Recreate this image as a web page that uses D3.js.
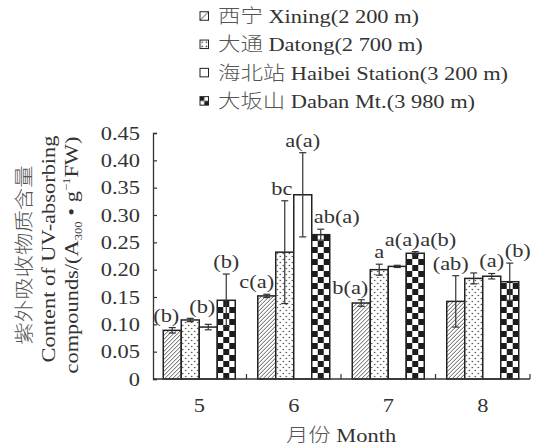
<!DOCTYPE html>
<html>
<head>
<meta charset="utf-8">
<script src="https://cdn.jsdelivr.net/npm/d3@7"></script>
<style>
  body { margin: 0; background: #fff; }
  svg { display: block; }
  text { font-family: "Liberation Serif", "Noto Sans CJK SC", serif; font-size: 19.5px; fill: #333; }
  .cjk { font-family: "Noto Sans CJK SC", sans-serif; font-weight: 300; fill: #555; }
</style>
</head>
<body>
<div id="chart"></div>
<script>
// data
const months = ["5", "6", "7", "8"];
const siteNames = ["西宁 Xining(2 200 m)", "大通 Datong(2 700 m)", "海北站 Haibei Station(3 200 m)", "大坂山 Daban Mt.(3 980 m)"];
const xining = [0.089, 0.152, 0.139, 0.142];
const xiningErr = [0.005, 0.003, 0.006, 0.047];
const datong = [0.108, 0.232, 0.200, 0.184];
const datongErr = [0.003, 0.094, 0.010, 0.010];
const haibei = [0.095, 0.337, 0.206, 0.188];
const haibeiErr = [0.005, 0.077, 0.002, 0.005];
const daban = [0.144, 0.264, 0.230, 0.178];
const dabanErr = [0.048, 0.010, 0.003, 0.034];
const xiningSig = ["(b)", "c(a)", "b(a)", "(ab)"];
const datongSig = ["", "bc", "a", ""];
const haibeiSig = ["(b)", "a(a)", "a(a)", "(a)"];
const dabanSig = ["(b)", "ab(a)", "a(b)", "(b)"];
const yTicks = [0, 0.05, 0.10, 0.15, 0.20, 0.25, 0.30, 0.35, 0.40, 0.45];

const SX = 1.15; // the original type is set wide
const CAP = 3.5;

const series = [
    { name: siteNames[0], values: xining, errs: xiningErr, sig: xiningSig, fill: "url(#hatch)", legendFill: "url(#hatchL)" },
    { name: siteNames[1], values: datong, errs: datongErr, sig: datongSig, fill: "url(#dots)", legendFill: "url(#dotsL)" },
    { name: siteNames[2], values: haibei, errs: haibeiErr, sig: haibeiSig, fill: "#fff", legendFill: "#fff" },
    { name: siteNames[3], values: daban, errs: dabanErr, sig: dabanSig, fill: "url(#check)", legendFill: "url(#checkL)" }
];

const svg = d3.select("#chart").append("svg")
    .attr("width", 540)
    .attr("height", 448);

const x = d3.scaleBand().domain(months).range([152, 530]).padding(0);
const xs = d3.scaleBand().domain(d3.range(series.length))
    .range([x.bandwidth() / 2 - 36, x.bandwidth() / 2 + 36]);
const y = d3.scaleLinear().domain([0, 0.45]).range([379, 133]);
const bw = xs.bandwidth();

// fill patterns
const defs = svg.append("defs");
function pattern(id, size, oy) {
    const p = defs.append("pattern").attr("id", id)
        .attr("patternUnits", "userSpaceOnUse")
        .attr("width", size).attr("height", size)
        .attr("y", oy || 0);
    p.append("rect").attr("width", size).attr("height", size).attr("fill", "#fff");
    return p;
}
pattern("hatch", 4).append("path")
    .attr("d", "M-1,1L1,-1M0,4L4,0M3,5L5,3")
    .attr("stroke", "#333").attr("stroke-width", 0.8);
const dots = pattern("dots", 6);
dots.append("circle").attr("cx", 1.5).attr("cy", 1.5).attr("r", 0.75).attr("fill", "#333");
dots.append("circle").attr("cx", 4.5).attr("cy", 4.5).attr("r", 0.75).attr("fill", "#333");
const check = pattern("check", 12, y(0));
check.append("rect").attr("width", 6).attr("height", 6).attr("fill", "#1c1c1c");
check.append("rect").attr("x", 6).attr("y", 6).attr("width", 6).attr("height", 6).attr("fill", "#1c1c1c");

pattern("hatchL", 8.5).append("path")
    .attr("d", "M-1,1L1,-1M0,8.5L8.5,0M7.5,9.5L9.5,7.5")
    .attr("stroke", "#333").attr("stroke-width", 0.9);
pattern("dotsL", 4.25).append("circle")
    .attr("cx", 2.125).attr("cy", 2.125).attr("r", 0.8).attr("fill", "#333");
const checkL = pattern("checkL", 8.5);
checkL.append("rect").attr("width", 4.25).attr("height", 4.25).attr("fill", "#1c1c1c");
checkL.append("rect").attr("x", 4.25).attr("y", 4.25).attr("width", 4.25).attr("height", 4.25).attr("fill", "#1c1c1c");

// text with the chinese part set in its own tspan
function mixedText(t, str) {
    const k = str.indexOf(" ");
    t.append("tspan").attr("class", "cjk").text(str.slice(0, k));
    t.append("tspan").text(str.slice(k));
    return t;
}

// legend
const legend = svg.append("g");
series.forEach((s, i) => {
    const base = 23 + i * 28.3;
    const row = legend.append("g").attr("transform", `translate(200, ${base - 11.25})`);
    row.append("rect")
        .attr("width", 8.5).attr("height", 8.5)
        .attr("fill", s.legendFill)
        .attr("stroke", "#222").attr("stroke-width", 1);
    mixedText(legend.append("text")
        .attr("transform", `translate(218, ${base}) scale(${SX},1)`), s.name);
});

// bar geometry
const bars = [];
months.forEach((m, i) => series.forEach((s, j) => {
    const bx = x(m) + xs(j);
    bars.push({ i, j, s, bx, cx: bx + bw / 2, v: s.values[i], e: s.errs[i], sig: s.sig[i] });
}));

// significance letters, nudged off neighbouring bars / labels
function hits(b, list) {
    return list.some(o => b.x0 < o.x1 && b.x1 > o.x0 && b.y0 < o.y1 && b.y1 > o.y0);
}
const placed = [];
const labelG = svg.append("g");
bars.filter(b => b.sig).forEach(b => {
    const t = labelG.append("text").attr("text-anchor", "middle").text(b.sig);
    const w = t.node().getComputedTextLength() * SX;
    const others = bars.filter(o => o.i === b.i && o !== b).flatMap(o => [
        { x0: o.bx - 1, x1: o.bx + bw + 1, y0: y(o.v) - 1, y1: y(0) },
        { x0: o.cx - CAP - 1, x1: o.cx + CAP + 1, y0: y(o.v + o.e) - 1, y1: y(o.v - o.e) }
    ]);
    const base0 = y(b.v + b.e) - 6;
    const boxAt = (dx, bl) => ({ x0: b.cx + dx - w / 2, x1: b.cx + dx + w / 2, y0: bl - 14, y1: bl + 3.5 });
    let best = null;
    for (let up = 0; up <= 40 && !best; up++) {
        for (let k = 0; k <= 48 && !best; k++) {
            const dx = k === 0 ? 0 : (k % 2 ? -Math.ceil(k / 2) : k / 2);
            const box = boxAt(dx, base0 - up);
            if (!hits(box, others) && !hits(box, placed)) best = { dx, bl: base0 - up, box };
        }
    }
    if (!best) best = { dx: 0, bl: base0, box: boxAt(0, base0) };
    placed.push(best.box);
    t.attr("transform", `translate(${b.cx + best.dx}, ${best.bl}) scale(${SX},1)`);
});

// bars
const barG = svg.append("g");
bars.forEach(b => {
    barG.append("g").attr("transform", `translate(${b.bx}, 0)`)
        .append("rect")
        .attr("x", 0)
        .attr("y", y(b.v))
        .attr("width", bw)
        .attr("height", y(0) - y(b.v))
        .attr("fill", b.s.fill)
        .attr("stroke", "#222")
        .attr("stroke-width", 1.5);
});

// error bars
const errG = svg.append("g").attr("stroke", "#333").attr("stroke-width", 1.2);
bars.forEach(b => {
    const hi = y(b.v + b.e), lo = y(b.v - b.e);
    errG.append("line").attr("x1", b.cx).attr("x2", b.cx).attr("y1", hi).attr("y2", lo);
    errG.append("line").attr("x1", b.cx - CAP).attr("x2", b.cx + CAP).attr("y1", hi).attr("y2", hi);
    errG.append("line").attr("x1", b.cx - CAP).attr("x2", b.cx + CAP).attr("y1", lo).attr("y2", lo);
});

// y axis
const yAxis = svg.append("g")
    .attr("transform", "translate(153, 0)")
    .attr("color", "#333")
    .call(d3.axisLeft(y).tickValues(yTicks).tickSize(-4)
        .tickFormat(d => d === 0 ? "0" : d3.format(".2f")(d)));
yAxis.select(".domain").attr("stroke-width", 1.3);
yAxis.selectAll(".tick line").attr("stroke-width", 1.2);
yAxis.selectAll(".tick text").attr("x", null)
    .attr("transform", `translate(-13,0) scale(${SX},1)`);

// x axis
const xAxis = svg.append("g")
    .attr("transform", `translate(0, ${y(0)})`)
    .call(d3.axisBottom(x).tickSize(0).tickPadding(19.5));
xAxis.select(".domain").remove();
xAxis.selectAll(".tick text").attr("transform", `scale(${SX},1)`);

svg.append("line")
    .attr("x1", 153).attr("x2", x.range()[1])
    .attr("y1", y(0)).attr("y2", y(0))
    .attr("stroke", "#333").attr("stroke-width", 1.3);
svg.selectAll(".edge").data(months).join("line")
    .attr("class", "edge")
    .attr("x1", d => x(d) + x.bandwidth()).attr("x2", d => x(d) + x.bandwidth())
    .attr("y1", y(0)).attr("y2", y(0) - 5)
    .attr("stroke", "#333").attr("stroke-width", 1.2);

mixedText(svg.append("text")
    .attr("text-anchor", "middle")
    .attr("transform", `translate(341, 441.5) scale(${SX},1)`), "月份 Month");

// y axis title, three lines
svg.append("text")
    .attr("class", "cjk")
    .attr("text-anchor", "middle")
    .attr("transform", `translate(31, 255) rotate(-90) scale(${SX},1)`)
    .text("紫外吸收物质含量");
svg.append("text")
    .attr("text-anchor", "middle")
    .attr("transform", `translate(55, 249) rotate(-90) scale(${SX},1)`)
    .text("Content of UV-absorbing");
const t3 = svg.append("text")
    .attr("text-anchor", "middle")
    .attr("transform", `translate(78, 255) rotate(-90) scale(${SX},1)`);
t3.append("tspan").text("compounds/(A");
t3.append("tspan").attr("font-size", 11).attr("dy", 4).text("300");
t3.append("tspan").attr("dy", -4).text(" • g");
t3.append("tspan").attr("font-size", 11).attr("dy", -8).text("−1");
t3.append("tspan").attr("dy", 8).text("FW)");
</script>
</body>
</html>
